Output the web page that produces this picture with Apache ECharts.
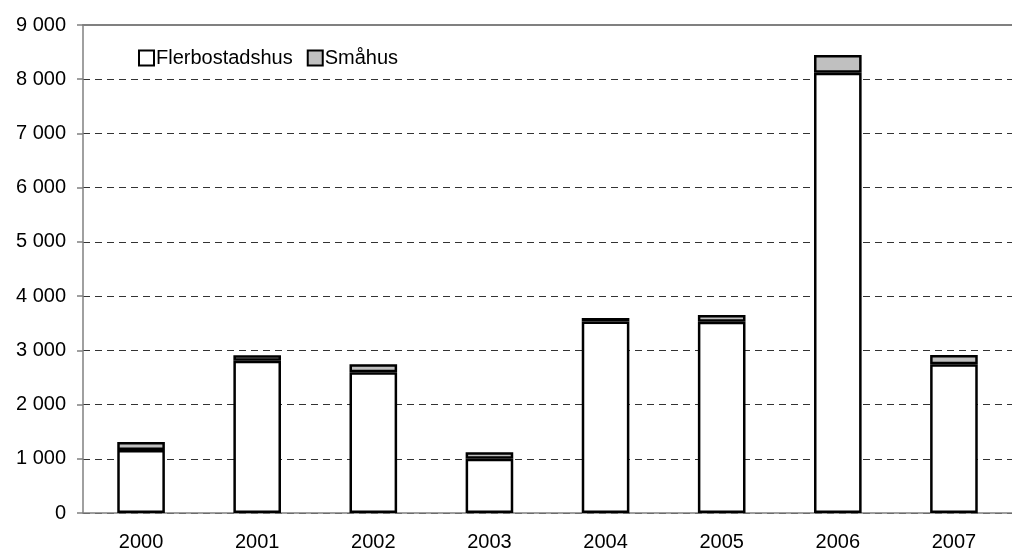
<!DOCTYPE html>
<html><head><meta charset="utf-8">
<script src="https://cdn.jsdelivr.net/npm/echarts@6/dist/echarts.min.js"></script>
<style>html,body{margin:0;padding:0;background:#fff}#c{width:1012px;height:552px}</style>
</head><body><div id="c"></div>
<script>
const categories = ['2000','2001','2002','2003','2004','2005','2006','2007'];
const flerbostadshus = [1160, 2810, 2595, 1000, 3530, 3525, 8120, 2745];
const smahus = [150, 100, 150, 120, 65, 125, 325, 170];
const seriesNames = ['Flerbostadshus', 'Småhus'];

const chart = echarts.init(document.getElementById('c'), null, {renderer:'canvas'});
const font = 'Liberation Sans, Arial, sans-serif';
chart.setOption({
  animation: false,
  textStyle: {fontFamily: font},
  legend: {
    left: 133, top: 43, icon: 'rect', itemWidth: 15, itemHeight: 15, itemGap: 14,
    itemStyle: {borderWidth: 2, borderColor: '#000'},
    textStyle: {fontFamily: font, fontSize: 20, color: '#000', padding: [0,0,0,-3]},
    data: seriesNames
  },
  grid: {left: 83, top: 25, width: 940, height: 488},
  xAxis: [{
    type: 'category', data: categories, position: 'bottom',
    axisLine: {lineStyle: {color: '#808080', width: 1.5}},
    axisTick: {show: false},
    axisLabel: {fontFamily: font, fontSize: 20, color: '#000', margin: 19}
  }, {
    type: 'category', data: categories, position: 'top',
    axisLine: {lineStyle: {color: '#808080', width: 2}},
    axisTick: {show: false}, axisLabel: {show: false}
  }],
  yAxis: {
    type: 'value', min: 0, max: 9000, interval: 1000,
    axisLine: {show: true, lineStyle: {color: '#808080', width: 1.5}},
    axisTick: {show: true, length: 6, lineStyle: {color: '#808080', width: 1.5}},
    axisLabel: {fontFamily: font, fontSize: 20, color: '#000', margin: 17,
      formatter: v => v === 0 ? '0' : String(v).replace(/\B(?=(\d{3})+(?!\d))/g, ' ')},
    splitLine: {show: true, lineStyle: {color: '#333', type: [7,5], width: 1}}
  },
  series: [{
    name: seriesNames[0], type: 'bar', stack: 't', data: flerbostadshus, barWidth: '41%',
    itemStyle: {color: '#fff', borderColor: '#000', borderWidth: 2.5}
  }, {
    name: seriesNames[1], type: 'bar', stack: 't', data: smahus, barWidth: '41%',
    itemStyle: {color: '#c0c0c0', borderColor: '#000', borderWidth: 2.5}
  }]
});
</script></body></html>
